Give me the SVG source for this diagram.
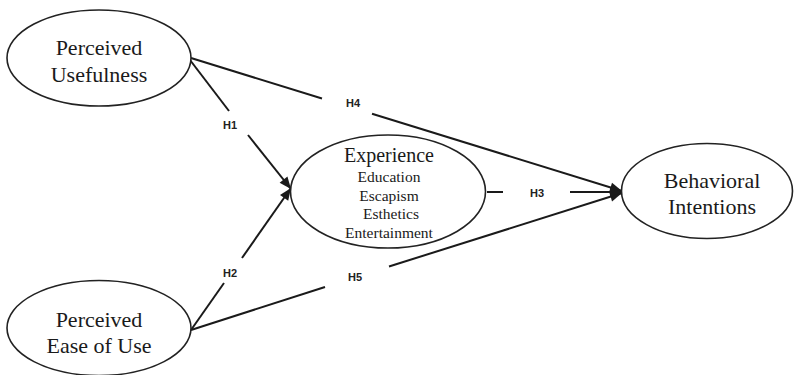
<svg xmlns="http://www.w3.org/2000/svg" width="794" height="375" viewBox="0 0 794 375">
<style>
.node{fill:#fff;stroke:#222;stroke-width:1.6}
.t{font-family:"Liberation Serif","Times New Roman",serif;fill:#1a1a1a;text-anchor:middle}
.big{font-size:22px}
.mid{font-size:20px}
.sm{font-size:15.5px}
.edge{stroke:#1a1a1a;stroke-width:2;fill:none}
.lbl{font-family:"Liberation Sans",Arial,sans-serif;font-size:11px;font-weight:bold;fill:#222;text-anchor:middle}
</style>
<defs>
<marker id="ah" markerUnits="userSpaceOnUse" markerWidth="14" markerHeight="14" viewBox="0 0 14 14" refX="13" refY="7" orient="auto">
<path d="M1,2 L13,7 L1,12 Z" fill="#1a1a1a"/>
</marker>
</defs>
<rect width="794" height="375" fill="#fff"/>
<g id="connectors">
<line class="edge" x1="190" y1="60" x2="229" y2="111"/>
<line class="edge" x1="248" y1="135" x2="291" y2="189" marker-end="url(#ah)"/>
<line class="edge" x1="191" y1="330" x2="224" y2="283"/>
<line class="edge" x1="242" y1="258" x2="291" y2="188" marker-end="url(#ah)"/>
<line class="edge" x1="191" y1="58" x2="322" y2="98.5"/>
<line class="edge" x1="372" y1="113.8" x2="622" y2="191" marker-end="url(#ah)"/>
<line class="edge" x1="191" y1="330" x2="325" y2="287"/>
<line class="edge" x1="389" y1="266.5" x2="622" y2="193" marker-end="url(#ah)"/>
<line class="edge" x1="487" y1="192" x2="503" y2="192"/>
<line class="edge" x1="570" y1="192" x2="622" y2="192" marker-end="url(#ah)"/>
<text class="lbl" x="230" y="129">H1</text>
<text class="lbl" x="230" y="277">H2</text>
<text class="lbl" x="537" y="197">H3</text>
<text class="lbl" x="353" y="107">H4</text>
<text class="lbl" x="355" y="281">H5</text>
</g>
<g id="pu">
<ellipse class="node" cx="99" cy="58" rx="92" ry="48"/>
<text class="t big" x="99" y="55">Perceived</text>
<text class="t big" x="99" y="82">Usefulness</text>
</g>
<g id="peou">
<ellipse class="node" cx="99" cy="328" rx="92" ry="47.5"/>
<text class="t big" x="99" y="327">Perceived</text>
<text class="t big" x="99" y="353">Ease of Use</text>
</g>
<g id="experience">
<ellipse class="node" cx="388" cy="191.5" rx="97.5" ry="56.5"/>
<text class="t mid" x="389" y="162">Experience</text>
<text class="t sm" x="389" y="182">Education</text>
<text class="t sm" x="389" y="201">Escapism</text>
<text class="t sm" x="391" y="219">Esthetics</text>
<text class="t sm" x="389" y="238">Entertainment</text>
</g>
<g id="bi">
<ellipse class="node" cx="707" cy="191" rx="85.5" ry="47.5"/>
<text class="t big" x="712" y="188">Behavioral</text>
<text class="t big" x="712" y="214">Intentions</text>
</g>
</svg>
